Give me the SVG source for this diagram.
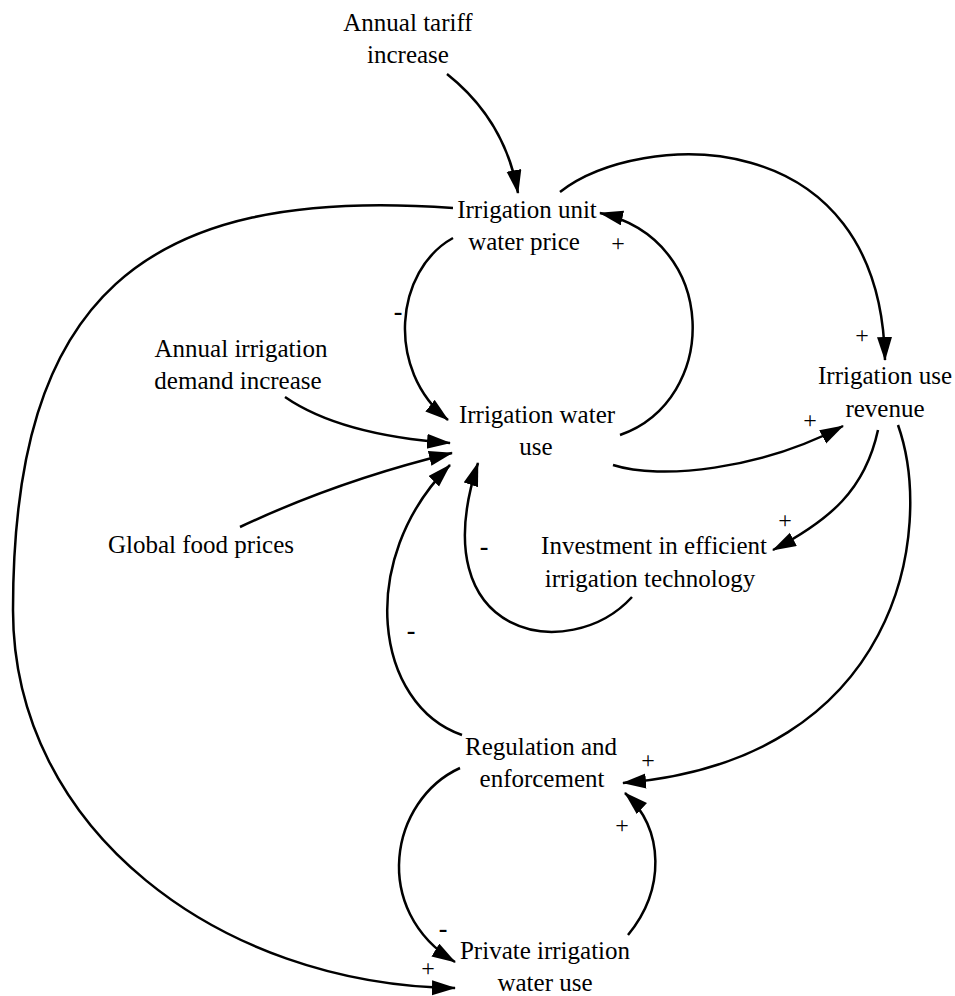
<svg xmlns="http://www.w3.org/2000/svg" width="955" height="996" viewBox="0 0 955 996">
<defs>
<marker id="arrowhead" markerUnits="userSpaceOnUse" markerWidth="26" markerHeight="16" refX="23" refY="7.5" orient="auto">
<path d="M0,0 L24,7.5 L0,15 z" fill="#000"/>
</marker>
</defs>
<rect width="955" height="996" fill="#fff"/>
<g id="connectors" fill="none" stroke="#000" stroke-width="2.5" marker-end="url(#arrowhead)">
<path d="M447,74 Q505,120 518,193"/>
<path d="M453,208 C140,185 13,300 13,610 C13,830 220,985 455,988"/>
<path d="M453,238 C395,270 385,370 448,420"/>
<path d="M620,435 C720,400 720,240 600,213"/>
<path d="M560,192 C640,130 880,120 885,360"/>
<path d="M613,465 C660,480 760,470 843,426"/>
<path d="M878,430 C865,490 830,520 773,550"/>
<path d="M898,425 C935,530 900,760 623,783"/>
<path d="M285,397 Q340,435 450,443"/>
<path d="M240,527 Q340,480 452,453"/>
<path d="M462,735 C375,705 355,560 450,465"/>
<path d="M632,597 C570,665 420,640 478,463"/>
<path d="M460,768 C390,800 370,910 455,962"/>
<path d="M628,935 C665,890 665,830 625,793"/>
</g>
<g id="polarities" font-family="Liberation Serif, DejaVu Serif, serif" fill="#000" text-anchor="middle">
<g font-size="24">
<text x="618" y="251">+</text>
<text x="862" y="343">+</text>
<text x="810" y="428">+</text>
<text x="785" y="528">+</text>
<text x="648" y="768">+</text>
<text x="622" y="833">+</text>
<text x="428" y="976">+</text>
</g>
<g font-size="26" font-weight="bold">
<text x="398" y="320">-</text>
<text x="484" y="555">-</text>
<text x="411" y="639">-</text>
<text x="443" y="937">-</text>
</g>
</g>
<g font-family="Liberation Serif, DejaVu Serif, serif" font-size="25" fill="#000" text-anchor="middle">
<g id="annual-tariff-increase"><text x="408" y="31">Annual tariff</text><text x="408" y="63">increase</text></g>
<g id="irrigation-unit-water-price"><text x="527" y="218">Irrigation unit</text><text x="524" y="250">water price</text></g>
<g id="annual-irrigation-demand-increase"><text x="241" y="357">Annual irrigation</text><text x="238" y="389">demand increase</text></g>
<g id="irrigation-use-revenue"><text x="885" y="384">Irrigation use</text><text x="885" y="417">revenue</text></g>
<g id="irrigation-water-use"><text x="537" y="423">Irrigation water</text><text x="536" y="455">use</text></g>
<g id="global-food-prices"><text x="201" y="553">Global food prices</text></g>
<g id="investment"><text x="654" y="554">Investment in efficient</text><text x="650" y="587">irrigation technology</text></g>
<g id="regulation-and-enforcement"><text x="541" y="755">Regulation and</text><text x="542" y="787">enforcement</text></g>
<g id="private-irrigation-water-use"><text x="545" y="959">Private irrigation</text><text x="545" y="991">water use</text></g>
</g>
</svg>
